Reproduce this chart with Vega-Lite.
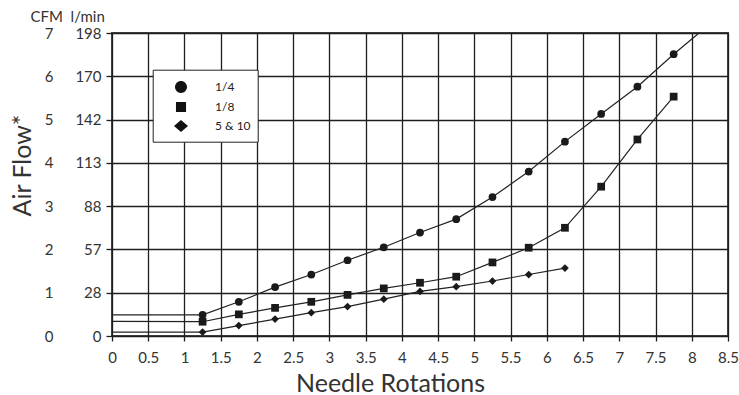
{
  "$schema": "https://vega.github.io/schema/vega-lite/v6.json",
  "width": 616,
  "height": 303,
  "autosize": {"type": "none"},
  "padding": {"left": 112, "top": 33, "right": 11, "bottom": 59},
  "background": "white",
  "config": {
    "font": "Lato",
    "view": {"stroke": "#444", "strokeWidth": 2},
    "axis": {
      "labelFont": "Lato", "titleFont": "Lato", "labelColor": "#333", "titleColor": "#333",
      "titleFontWeight": "normal", "gridColor": "#1e1e1e", "gridOpacity": 1, "gridWidth": 1.3,
      "tickColor": "#1e1e1e", "tickWidth": 1.3, "domain": false
    }
  },
  "data": {
    "values": [
      {"series": "1/4", "x": 0, "y": 0.49},
      {"series": "1/4", "x": 1.25, "y": 0.49},
      {"series": "1/4", "x": 1.75, "y": 0.79},
      {"series": "1/4", "x": 2.25, "y": 1.13},
      {"series": "1/4", "x": 2.75, "y": 1.42},
      {"series": "1/4", "x": 3.25, "y": 1.75},
      {"series": "1/4", "x": 3.75, "y": 2.05},
      {"series": "1/4", "x": 4.25, "y": 2.39},
      {"series": "1/4", "x": 4.75, "y": 2.70},
      {"series": "1/4", "x": 5.25, "y": 3.21},
      {"series": "1/4", "x": 5.75, "y": 3.80},
      {"series": "1/4", "x": 6.25, "y": 4.49},
      {"series": "1/4", "x": 6.75, "y": 5.13},
      {"series": "1/4", "x": 7.25, "y": 5.76},
      {"series": "1/4", "x": 7.75, "y": 6.51},
      {"series": "1/4", "x": 8.1, "y": 7.0},
      {"series": "1/8", "x": 0, "y": 0.34},
      {"series": "1/8", "x": 1.25, "y": 0.33},
      {"series": "1/8", "x": 1.75, "y": 0.50},
      {"series": "1/8", "x": 2.25, "y": 0.65},
      {"series": "1/8", "x": 2.75, "y": 0.79},
      {"series": "1/8", "x": 3.25, "y": 0.95},
      {"series": "1/8", "x": 3.75, "y": 1.10},
      {"series": "1/8", "x": 4.25, "y": 1.23},
      {"series": "1/8", "x": 4.75, "y": 1.37},
      {"series": "1/8", "x": 5.25, "y": 1.70},
      {"series": "1/8", "x": 5.75, "y": 2.04},
      {"series": "1/8", "x": 6.25, "y": 2.50},
      {"series": "1/8", "x": 6.75, "y": 3.45},
      {"series": "1/8", "x": 7.25, "y": 4.54},
      {"series": "1/8", "x": 7.75, "y": 5.53},
      {"series": "5 & 10", "x": 0, "y": 0.09},
      {"series": "5 & 10", "x": 1.25, "y": 0.09},
      {"series": "5 & 10", "x": 1.75, "y": 0.24},
      {"series": "5 & 10", "x": 2.25, "y": 0.39},
      {"series": "5 & 10", "x": 2.75, "y": 0.54},
      {"series": "5 & 10", "x": 3.25, "y": 0.68},
      {"series": "5 & 10", "x": 3.75, "y": 0.85},
      {"series": "5 & 10", "x": 4.25, "y": 1.03},
      {"series": "5 & 10", "x": 4.75, "y": 1.14},
      {"series": "5 & 10", "x": 5.25, "y": 1.27},
      {"series": "5 & 10", "x": 5.75, "y": 1.42},
      {"series": "5 & 10", "x": 6.25, "y": 1.57}
    ]
  },
  "encoding": {
    "x": {
      "field": "x", "type": "quantitative",
      "scale": {"domain": [0, 8.5], "nice": false, "zero": false},
      "axis": {
        "values": [0, 0.5, 1, 1.5, 2, 2.5, 3, 3.5, 4, 4.5, 5, 5.5, 6, 6.5, 7, 7.5, 8, 8.5],
        "format": "~g", "grid": true, "tickSize": 5, "labelPadding": 9, "labelFontSize": 15,
        "labelFlush": false, "labelOverlap": false,
        "title": "Needle Rotations", "titleFontSize": 25, "titleX": 278, "titleY": 55,
        "titleBaseline": "alphabetic", "titleAlign": "center"
      }
    }
  },
  "layer": [
    {
      "mark": {"type": "line", "strokeWidth": 1.2, "color": "#222"},
      "encoding": {
        "y": {
          "field": "y", "type": "quantitative",
          "scale": {"domain": [0, 7], "nice": false},
          "axis": {
            "orient": "left", "values": [0, 1, 2, 3, 4, 5, 6, 7],
            "labelExpr": "['0','28','57','88','113','142','170','198'][datum.value]",
            "labelFontSize": 15, "tickSize": 6, "labelPadding": 5, "grid": true,
            "title": "CFM\u00a0\u00a0l/min", "titleAngle": 0, "titleAlign": "left", "titleX": -82, "titleY": -12,
            "titleBaseline": "alphabetic", "titleFontSize": 15
          }
        },
        "detail": {"field": "series", "type": "nominal"}
      }
    },
    {
      "transform": [{"filter": "datum.x >= 1.25 && datum.x <= 7.75"}],
      "mark": {"type": "point", "filled": true, "opacity": 1, "size": 60, "color": "#1a1a1a"},
      "encoding": {
        "y": {
          "field": "y", "type": "quantitative",
          "axis": {
            "orient": "left", "offset": 55, "values": [0, 1, 2, 3, 4, 5, 6, 7], "format": "d",
            "grid": false, "ticks": false, "domain": false, "labelFontSize": 15, "labelPadding": 4,
            "title": "Air Flow*", "titleFontSize": 25, "titleX": -27, "titleY": 132,
            "titleBaseline": "alphabetic", "titleAngle": -90
          }
        },
        "shape": {
          "field": "series", "type": "nominal",
          "scale": {"domain": ["1/4", "1/8", "5 & 10"], "range": ["circle", "square", "diamond"]},
          "legend": null
        }
      }
    },
    {
      "transform": [{"filter": "datum.x >= 1.25 && datum.x <= 7.75"}],
      "mark": {"type": "point", "filled": true, "opacity": 1, "size": 0, "color": "#111", "stroke": "#111", "strokeWidth": 1.3},
      "encoding": {
        "y": {"field": "y", "type": "quantitative", "axis": null},
        "shape": {
          "field": "series", "type": "nominal",
          "scale": {"range": [
            "M-1.47,0H1.47M-0.63,0A0.63,0.63,0,1,0,0.63,0A0.63,0.63,0,1,0,-0.63,0Z",
            "M-1.47,0H1.47M-0.53,-0.53H0.53V0.53H-0.53Z",
            "M-1.47,0H1.47M-0.74,0L0,-0.63L0.74,0L0,0.63Z"
          ]},
          "legend": {
            "title": null, "orient": "none", "legendX": 40.7, "legendY": 36.7, "padding": 6.8,
            "fillColor": "white", "strokeColor": "#222",
            "symbolOffset": 11, "labelOffset": 23.5, "labelFontSize": 12, "labelColor": "#222",
            "labelFont": "Lato", "rowPadding": 0, "symbolSize": 361,
            "symbolFillColor": "#111", "symbolStrokeColor": "#111", "symbolStrokeWidth": 1.3,
            "encode": {
              "legend": {"update": {"strokeWidth": {"value": 2.5}}},
              "symbols": {
                "update": {
                  "size": {"value": 361},
                  "fill": {"value": "#111"},
                  "stroke": {"value": "#111"},
                  "strokeWidth": {"value": 1.3},
                  "opacity": {"value": 1}
                }
              }
            }
          }
        }
      }
    }
  ],
  "resolve": {"axis": {"y": "independent"}, "scale": {"shape": "independent"}}
}
